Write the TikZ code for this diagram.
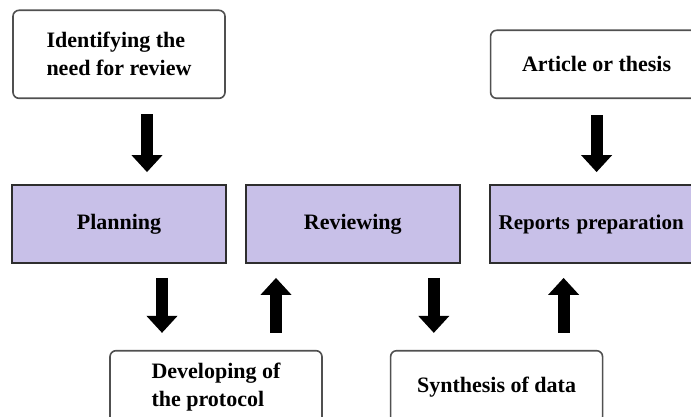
\documentclass[tikz,border=0pt]{standalone}
\usepackage{fontspec}
\setmainfont{Liberation Serif}
\usetikzlibrary{arrows.meta,positioning}
\definecolor{lavender}{HTML}{C8C0E8}
\definecolor{edgegray}{HTML}{505050}
\definecolor{darkline}{HTML}{2E2E2E}
\tikzset{
  note/.style={draw=edgegray, rounded corners=6pt, line width=1.6pt,
               fill=white, minimum width=212pt, align=left, inner sep=4pt,
               font=\fontsize{22}{28}\selectfont\bfseries},
  phase/.style={draw=darkline, line width=1.8pt, fill=lavender,
                minimum width=214pt, minimum height=78pt, inner sep=4pt,
                font=\fontsize{22}{28}\selectfont\bfseries},
  bigarrow/.style={-{Triangle[width=30pt,length=17pt]}, line width=12pt,
                   draw=black, shorten <=14pt, shorten >=14pt}
}
\begin{document}
\begin{tikzpicture}[x=1pt,y=1pt]
  \useasboundingbox (0,0) rectangle (691,416);
  \clip (0,0) rectangle (691,416);

  % main phases
  \node[phase] (plan) at (119,192) {Planning};
  \node[phase, right=18pt of plan] (rev) {Reviewing};
  \node[phase, right=28pt of rev, font=\fontsize{21}{28}\selectfont\bfseries,
        text width=196pt, align=left, inner sep=7pt] (rep) {Reports preparation};

  % inputs and outputs
  \node[note, above=85pt of plan, minimum height=88pt] (ident) {Identifying the\\need for review};
  \node[note, above=85pt of rep, minimum height=68pt] (art) {Article or thesis};
  \node[note, below=86pt of plan, xshift=97pt, minimum height=72pt] (dev) {Developing of\\the protocol};
  \node[note, right=67pt of dev, minimum height=72pt] (syn) {Synthesis of data};

  \draw[bigarrow, shorten <=15pt, shorten >=12pt] ([xshift=28pt]ident.south) -- ([xshift=28pt]ident.south |- plan.north);
  \draw[bigarrow, shorten <=16pt, shorten >=12pt] (art.south) -- (rep.north);
  \draw[bigarrow, shorten >=17pt] ([xshift=43pt]plan.south) -- ([xshift=43pt]plan.south |- dev.north);
  \draw[bigarrow, shorten <=17pt] ([xshift=60pt]dev.north) -- ([xshift=60pt]dev.north |- rev.south);
  \draw[bigarrow, shorten >=17pt] ([xshift=81pt]rev.south) -- ([xshift=81pt]rev.south |- syn.north);
  \draw[bigarrow, shorten <=17pt] ([xshift=67pt]syn.north) -- ([xshift=67pt]syn.north |- rep.south);
\end{tikzpicture}
\end{document}
